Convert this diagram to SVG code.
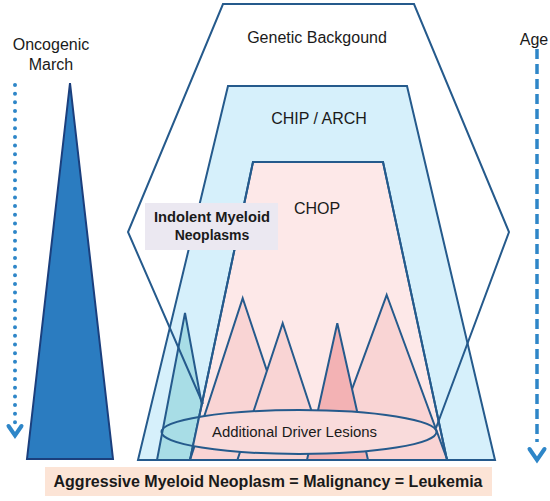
<svg xmlns="http://www.w3.org/2000/svg" width="550" height="501" viewBox="0 0 550 501">
<style>
.ln{stroke:#255a8c;stroke-width:2;stroke-linejoin:miter}
.t{font-family:"Liberation Sans",Arial,sans-serif;fill:#1a1a1a}
.b{font-weight:bold}
.peak{fill:#f9d4d4}
.arr{stroke:#2e86c8;fill:none}
</style>
<defs>
<clipPath id="chopClip"><polygon points="253,162 383,162 447,460 190,460"/></clipPath>
</defs>
<rect width="550" height="501" fill="#ffffff"/>

<g id="chip">
<polygon class="ln" points="228,86 407,86 495,460 138,460" fill="#d6f0fb"/>
</g>
<g id="teal-peak">
<polygon class="ln" points="185,313 212,460 157,460" fill="#a8dde6"/>
</g>
<g id="chop">
<polygon class="ln" points="253,162 383,162 447,460 190,460" fill="#fde8e8"/>
</g>
<g id="peaks">
<polygon class="ln peak" points="242.7,298.3 296.7,460 190,460"/>
<polygon class="ln peak" points="282.7,323.3 327.7,460 237.4,460"/>
<polygon class="ln peak" points="386.7,295 447.3,460 326,460"/>
<polygon class="ln" points="337.3,323.3 368,460 307,460" fill="#f3b2b4"/>
</g>
<g id="lesions">
<ellipse cx="299" cy="432" rx="137.5" ry="22" fill="#f9dbdb" clip-path="url(#chopClip)"/>
<polygon class="ln" points="253,162 383,162 447,460 190,460" fill="none"/>
<ellipse class="ln" cx="299" cy="432" rx="137.5" ry="22" fill="none"/>
<text class="t" x="294.5" y="437" font-size="14" text-anchor="middle" textLength="165" lengthAdjust="spacingAndGlyphs">Additional Driver Lesions</text>
</g>
<g id="genetic">
<polyline class="ln" fill="none" points="203,404 128,232 223,4 414,4 509,232 436,428"/>
<text class="t" x="317" y="43" font-size="16" text-anchor="middle">Genetic Backgound</text>
</g>
<g id="chip-label">
<text class="t" x="319" y="124" font-size="16" text-anchor="middle">CHIP / ARCH</text>
</g>
<g id="chop-label">
<text class="t" x="317" y="214" font-size="16" text-anchor="middle">CHOP</text>
</g>
<g id="indolent">
<rect x="145" y="203" width="133" height="47" fill="#ebe8f1"/>
<text class="t b" x="212" y="222" font-size="14" text-anchor="middle" textLength="116" lengthAdjust="spacingAndGlyphs">Indolent Myeloid</text>
<text class="t b" x="212" y="240" font-size="14" text-anchor="middle">Neoplasms</text>
</g>
<g id="oncogenic">
<polygon points="70,83 113,459 27,459" fill="#2b7cc0" stroke="#1b3f7d" stroke-width="2"/>
<text class="t" x="51" y="50" font-size="16" text-anchor="middle">Oncogenic</text>
<text class="t" x="51" y="70" font-size="16" text-anchor="middle">March</text>
</g>
<g id="connectors">
<line class="arr" x1="15" y1="85" x2="15" y2="423" stroke-width="4" stroke-linecap="round" stroke-dasharray="0 8.65"/>
<polyline class="arr" points="8.5,426 15,435.5 21.5,426" stroke-width="4" stroke-linecap="round"/>
<line class="arr" x1="537" y1="49" x2="537" y2="442" stroke-width="3.5" stroke-dasharray="10 5"/>
<polyline class="arr" points="529.5,449 537,460 544.5,449" stroke-width="4" stroke-linecap="round"/>
</g>
<g id="age">
<text class="t" x="534" y="45" font-size="16" text-anchor="middle">Age</text>
</g>
<g id="banner">
<rect x="45" y="467" width="447" height="29" fill="#fce4d6"/>
<text class="t b" x="268" y="487" font-size="16" text-anchor="middle" textLength="429" lengthAdjust="spacingAndGlyphs">Aggressive Myeloid Neoplasm = Malignancy = Leukemia</text>
</g>
</svg>
